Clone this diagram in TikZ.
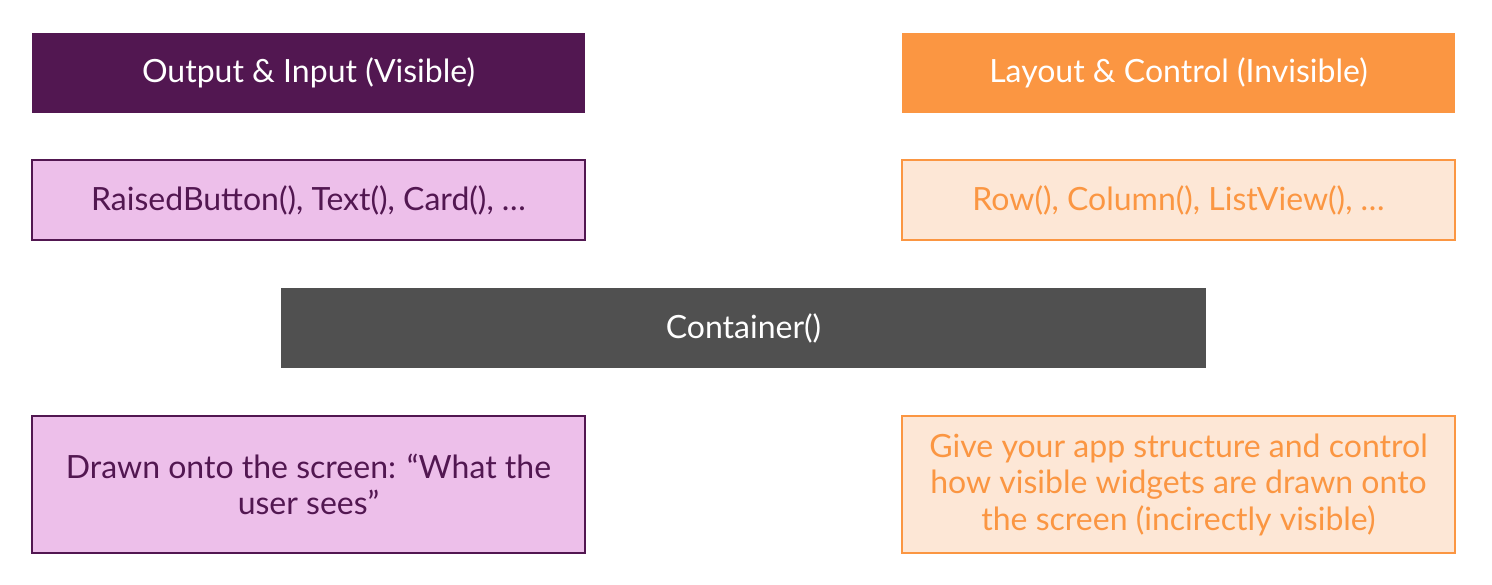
\documentclass[tikz,border=0pt]{standalone}
\usepackage{fontspec}
\setmainfont{Lato}
\usepackage{xcolor}
\usepackage{tikz}
\usetikzlibrary{positioning}
\definecolor{plum}{HTML}{521751}
\definecolor{pinkfill}{HTML}{EDBFEA}
\definecolor{tangerine}{HTML}{FB9642}
\definecolor{peach}{HTML}{FDE7D6}
\definecolor{slate}{HTML}{505050}
\begin{document}
\begin{tikzpicture}[x = 1pt, y = -1pt,
  box/.style = {minimum width = 553pt, minimum height = 80pt, inner sep = 0pt,
    align = center, font = \fontsize{32}{36.5}\selectfont},
  headvis/.style = {box, fill = plum, text = white},
  headinv/.style = {box, fill = tangerine, text = white},
  vis/.style = {box, fill = pinkfill, draw = plum, line width = 1.5pt, text = plum},
  inv/.style = {box, fill = peach, draw = tangerine, line width = 1.5pt, text = tangerine}]
\useasboundingbox[fill = white] (0,0) rectangle (1492,585);
\node[headvis] (outin) at (308.5,73) {Output \& Input (Visible)};
\node[headinv] (layout) at (1178.5,73) {Layout \& Control (Invisible)};
\node[vis] (raised) at (308.5,200) {RaisedButton(), Text(), Card(), …};
\node[inv] (row) at (1178.5,200) {Row(), Column(), ListView(), …};
\node[box, fill = slate, text = white, minimum width = 925pt] (container) at (743.5,328) {Container()};
\node[vis, minimum height = 137pt] (drawn) at (308.5,484.5) {Drawn onto the screen: “What the\\user sees”};
\node[inv, minimum height = 137pt] (give) at (1178.5,484.5) {Give your app structure and control\\how visible widgets are drawn onto\\the screen (incirectly visible)};
\end{tikzpicture}
\end{document}
